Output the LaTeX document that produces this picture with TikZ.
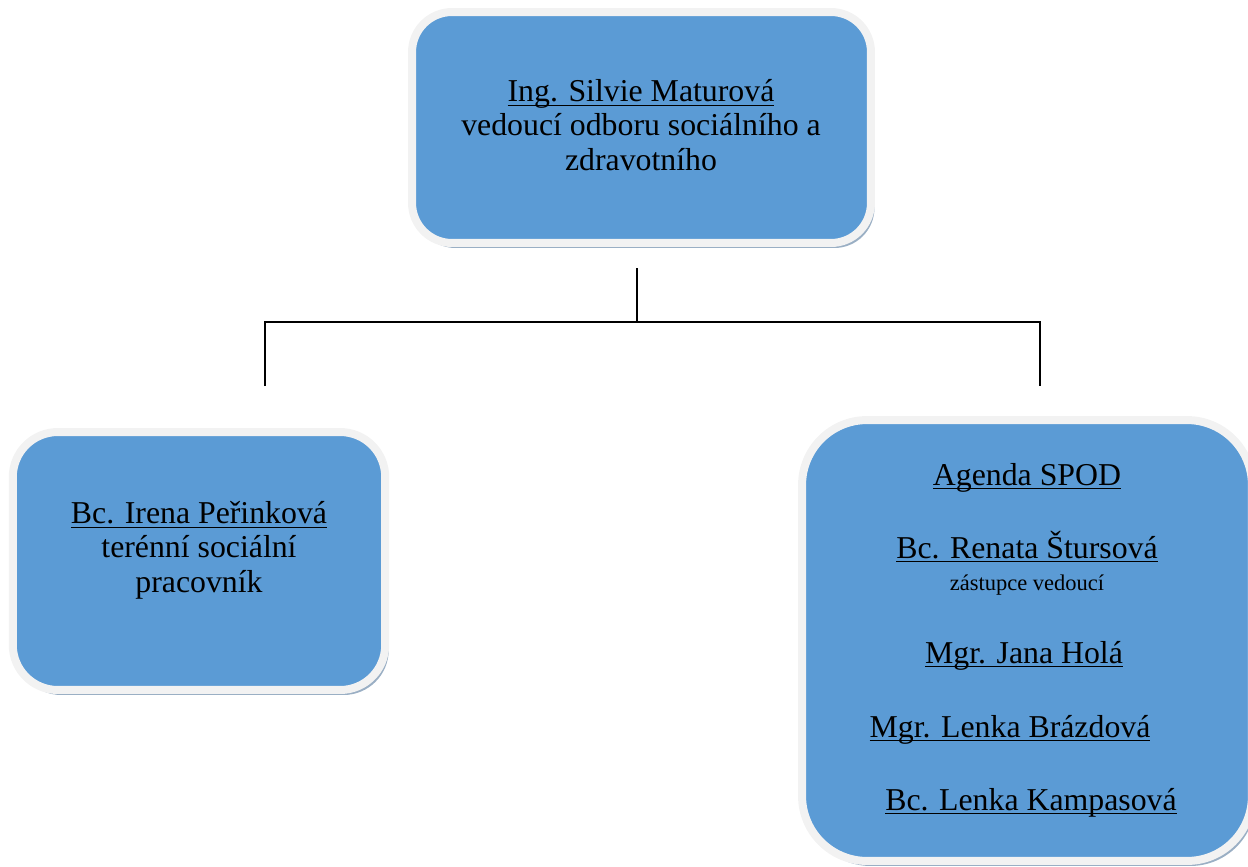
\documentclass[tikz,border=0pt]{standalone}
\usepackage{fontspec}
\setmainfont{Liberation Serif}
\usepackage{tikz}
\usetikzlibrary{shadows}
\definecolor{boxblue}{HTML}{5B9BD5}
\definecolor{rimgray}{HTML}{F2F2F2}
\definecolor{shadowblue}{HTML}{8FA6BE}
\newsavebox\undlbox
\newcommand\undl[1]{\sbox\undlbox{#1}\rlap{\rule[-2.4pt]{\wd\undlbox}{0.8pt}}\usebox\undlbox}

\begin{document}
\begin{tikzpicture}[x=0.02cm,y=-0.02cm,
  box/.style={draw=rimgray,line width=0.16cm,fill=boxblue,
    drop shadow={shadow xshift=0.07cm,shadow yshift=-0.1cm,fill=shadowblue,opacity=0.9}},
  txt/.style={align=center,inner sep=0pt,font=\fontsize{18.1}{19.4}\selectfont},
  small/.style={inner sep=0pt,font=\fontsize{12.8}{14}\selectfont},
  conn/.style={line width=1pt}]

\useasboundingbox (0,0) rectangle (1248,866);

\node[box,rounded corners=0.8cm,minimum width=9.18cm,minimum height=4.62cm] (head) at (641.5,127.5) {};
\node[box,rounded corners=0.9cm,minimum width=7.45cm,minimum height=5.16cm] (terrain) at (199,561) {};
\node[box,rounded corners=1.3cm,minimum width=9.0cm,minimum height=8.82cm] (spod) at (1027,640.5) {};

\node[txt,anchor=base] (headtxt) at (641,170) {\undl{Ing. Silvie Maturová}\\vedoucí odboru sociálního a\\zdravotního};
\node[txt,anchor=base] (terraintxt) at (199,592) {\undl{Bc. Irena Peřinková}\\terénní sociální\\pracovník};

\node[txt,anchor=base] (agenda) at (1027,485) {\undl{Agenda SPOD}};
\node[txt,anchor=base] (sturs) at (1027,558) {\undl{Bc. Renata Štursová}};
\node[small,anchor=base] (deputy) at (1027,590) {zástupce vedoucí};
\node[txt,anchor=base] (hola) at (1024,663) {\undl{Mgr. Jana Holá}};
\node[txt,anchor=base] (brazd) at (1010,737) {\undl{Mgr. Lenka Brázdová}};
\node[txt,anchor=base] (kampas) at (1031,810) {\undl{Bc. Lenka Kampasová}};

% connectors
\coordinate (trunk) at (637,268);
\coordinate (bus) at (637,322);
\coordinate (legL) at (265,386);
\coordinate (legR) at (1040,386);
\draw[conn] (trunk) -- (bus);
\draw[conn] (legL) -- (legL |- bus) -- (legR |- bus) -- (legR);

\end{tikzpicture}
\end{document}
